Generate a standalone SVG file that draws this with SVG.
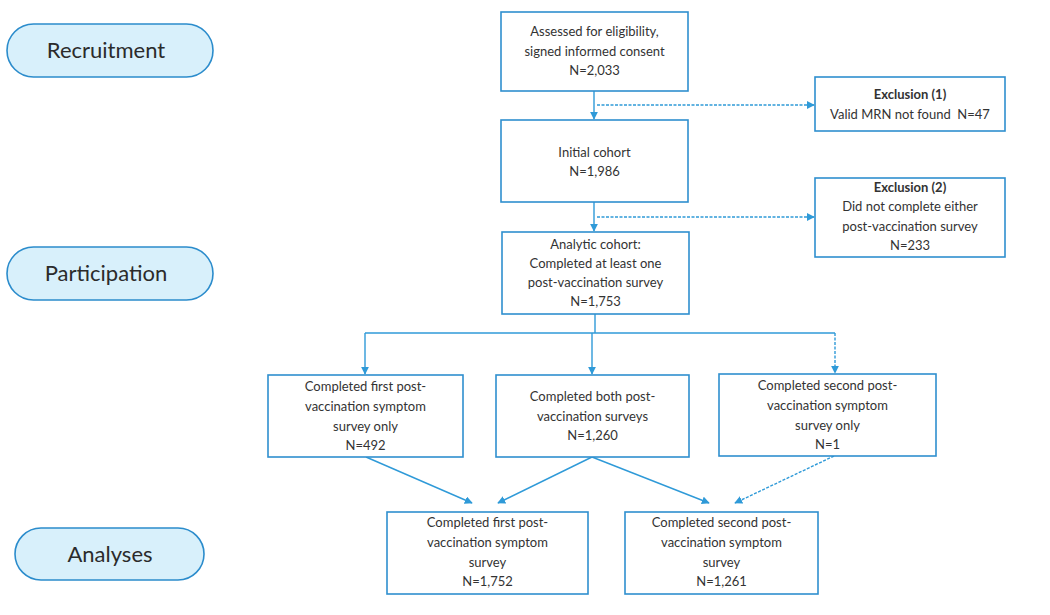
<svg xmlns="http://www.w3.org/2000/svg" width="1050" height="615" viewBox="0 0 1050 615">
<defs>
<style>
.box{fill:#fff;stroke:#2f8fcf;stroke-width:1.6}
.pill{fill:#d8f0fb;stroke:#2b8ccc;stroke-width:1.6}
.t{font-family:Lato,"Liberation Sans",sans-serif;font-size:13px;fill:#333;text-anchor:middle}
.b{font-weight:bold}
.p{font-family:Lato,"Liberation Sans",sans-serif;font-size:22px;fill:#2b2b2b;text-anchor:middle}
.ln{fill:none;stroke:#2f9ad8;stroke-width:1.4}
.dash{stroke-dasharray:3,1.5}
</style>
<marker id="ah" viewBox="0 0 10 10" refX="9" refY="5" markerWidth="8" markerHeight="8" markerUnits="userSpaceOnUse" orient="auto">
<path d="M0,0 L10,5 L0,10 z" fill="#2f9ad8"/>
</marker>
</defs>
<rect width="1050" height="615" fill="#fff"/>

<g id="stage-recruitment"><rect class="pill" x="7" y="24" width="206" height="53" rx="26.5"/><text class="p" x="106" y="58">Recruitment</text></g>
<g id="stage-participation"><rect class="pill" x="7" y="247" width="206" height="53" rx="26.5"/><text class="p" x="106" y="281">Participation</text></g>
<g id="stage-analyses"><rect class="pill" x="15" y="528" width="189" height="52" rx="26"/><text class="p" x="110" y="562">Analyses</text></g>

<g id="connectors">
<path class="ln" d="M594,91 V119" marker-end="url(#ah)"/>
<path class="ln dash" d="M597,105 H814" marker-end="url(#ah)"/>
<path class="ln" d="M594,202 V231" marker-end="url(#ah)"/>
<path class="ln dash" d="M597,217 H814" marker-end="url(#ah)"/>
<path class="ln" d="M595,314 V333"/>
<path class="ln" d="M365,333 H835"/>
<path class="ln" d="M365,333 V374" marker-end="url(#ah)"/>
<path class="ln" d="M592,333 V374" marker-end="url(#ah)"/>
<path class="ln dash" d="M835,333 V373" marker-end="url(#ah)"/>
<path class="ln" d="M366,457 L472,503" marker-end="url(#ah)"/>
<path class="ln" d="M592,457 L498,503" marker-end="url(#ah)"/>
<path class="ln" d="M592,457 L709,503" marker-end="url(#ah)"/>
<path class="ln dash" d="M834,456 L735,503" marker-end="url(#ah)"/>
</g>

<g id="assessed"><rect class="box" x="501" y="12" width="187" height="79"/>
<text class="t" x="594.5" y="36">Assessed for eligibility,</text>
<text class="t" x="594.5" y="56">signed informed consent</text>
<text class="t" x="594.5" y="75">N=2,033</text></g>

<g id="exclusion1"><rect class="box" x="815" y="77" width="190" height="54"/>
<text class="t b" x="910" y="99">Exclusion (1)</text>
<text class="t" x="910" y="119" xml:space="preserve" style="white-space:pre">Valid MRN not found  N=47</text></g>

<g id="initial"><rect class="box" x="501" y="120" width="187" height="82"/>
<text class="t" x="594.5" y="157">Initial cohort</text>
<text class="t" x="594.5" y="176">N=1,986</text></g>

<g id="exclusion2"><rect class="box" x="815" y="178" width="190" height="79"/>
<text class="t b" x="910" y="192">Exclusion (2)</text>
<text class="t" x="910" y="211">Did not complete either</text>
<text class="t" x="910" y="231">post-vaccination survey</text>
<text class="t" x="910" y="250">N=233</text></g>

<g id="analytic"><rect class="box" x="502" y="232" width="187" height="82"/>
<text class="t" x="595.5" y="249">Analytic cohort:</text>
<text class="t" x="595.5" y="268">Completed at least one</text>
<text class="t" x="595.5" y="287">post-vaccination survey</text>
<text class="t" x="595.5" y="306">N=1,753</text></g>

<g id="first-only"><rect class="box" x="268" y="375" width="195" height="82"/>
<text class="t" x="365.5" y="391">Completed first post-</text>
<text class="t" x="365.5" y="411">vaccination symptom</text>
<text class="t" x="365.5" y="431">survey only</text>
<text class="t" x="365.5" y="450">N=492</text></g>

<g id="both"><rect class="box" x="496" y="375" width="193" height="82"/>
<text class="t" x="592.5" y="401">Completed both post-</text>
<text class="t" x="592.5" y="421">vaccination surveys</text>
<text class="t" x="592.5" y="440">N=1,260</text></g>

<g id="second-only"><rect class="box" x="719" y="374" width="217" height="82"/>
<text class="t" x="827.5" y="390">Completed second post-</text>
<text class="t" x="827.5" y="410">vaccination symptom</text>
<text class="t" x="827.5" y="430">survey only</text>
<text class="t" x="827.5" y="449">N=1</text></g>

<g id="first-analysis"><rect class="box" x="387" y="512" width="201" height="82"/>
<text class="t" x="487.5" y="527">Completed first post-</text>
<text class="t" x="487.5" y="547">vaccination symptom</text>
<text class="t" x="487.5" y="567">survey</text>
<text class="t" x="487.5" y="586">N=1,752</text></g>

<g id="second-analysis"><rect class="box" x="625" y="512" width="193" height="82"/>
<text class="t" x="721.5" y="527">Completed second post-</text>
<text class="t" x="721.5" y="547">vaccination symptom</text>
<text class="t" x="721.5" y="567">survey</text>
<text class="t" x="721.5" y="586">N=1,261</text></g>
</svg>
